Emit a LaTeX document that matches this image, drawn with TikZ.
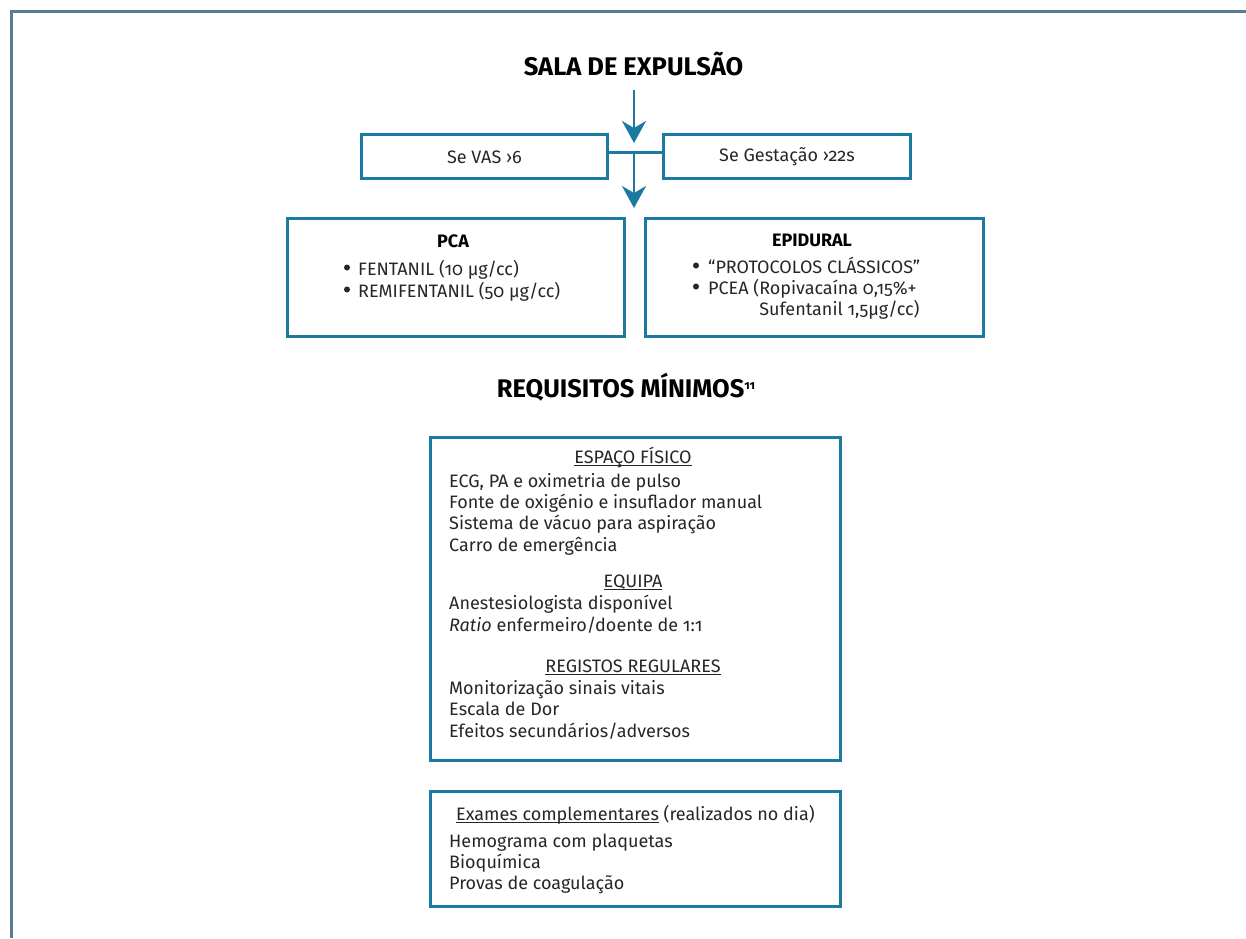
\documentclass[tikz,border=0pt]{standalone}
\usepackage{fontspec}
\setmainfont{Fira Sans}[Numbers=OldStyle]
\usetikzlibrary{arrows.meta}
\definecolor{boxc}{HTML}{1A7AA2}
\definecolor{framec}{HTML}{5B7B92}
\definecolor{txt}{HTML}{262626}
\newcommand{\myul}[1]{\setbox0\hbox{#1}\rlap{\rule[-3pt]{\wd0}{0.9pt}}\box0\relax}
\tikzset{
  boxs/.style={draw=boxc, line width=3pt, inner sep=0pt, anchor=north west},
  arr/.style={draw=boxc, line width=2.5pt, -{Stealth[length=22pt,width=24pt,inset=7pt]}},
  body/.style={inner sep=0pt, text=txt, font=\fontsize{18}{21}\selectfont},
  bl/.style={body, anchor=base west},
  bc/.style={body, anchor=base},
  ttl/.style={inner sep=0pt, anchor=base, font=\fontsize{25.5}{30}\selectfont\bfseries},
  sub/.style={inner sep=0pt, anchor=base, font=\fontsize{18}{21}\selectfont\bfseries},
  bul/.style={fill=txt}
}
\begin{document}
\begin{tikzpicture}[x=1pt,y=-1pt]
\useasboundingbox (0,0) rectangle (1246,938);
% frame
\draw[framec, line width=2.7pt] (11.3,938) -- (11.3,11.3) -- (1246,11.3);
% title
\node[ttl] (t1) at (633.5,75) {SALA DE EXPULSÃO};
% boxes
\node[boxs, minimum width=246pt, minimum height=44pt] (vas) at (360,132.5) {};
\node[boxs, minimum width=247pt, minimum height=44pt] (gest) at (662,132.5) {};
\node[boxs, minimum width=337pt, minimum height=118pt] (pca) at (285.5,216.5) {};
\node[boxs, minimum width=338pt, minimum height=118pt] (epi) at (644,216.5) {};
\node[boxs, minimum width=410pt, minimum height=323pt] (req) at (428.5,435.5) {};
\node[boxs, minimum width=410pt, minimum height=115pt] (exa) at (428.5,789.5) {};
% connectors
\coordinate (a1s) at (634,90);
\coordinate (a1e) at (634,143);
\coordinate (a2s) at (634,151);
\coordinate (a2e) at (634,208);
\draw[arr] (a1s) -- (a1e);
\draw[draw=boxc, line width=2.5pt] ([yshift=3.5pt]vas.east) -- ([yshift=3.5pt]gest.west);
\draw[arr] (a2s) -- (a2e);
% box texts
\node[body, anchor=center] (vast) at ([yshift=-1pt]vas.center) {Se VAS ›6};
\node[body, anchor=center] (gestt) at ([yshift=-1pt]gest.center) {Se Gestação ›22s};
\node[sub] (pcat) at (453,247) {PCA};
\node[bl] (pca1) at (358,275) {FENTANIL (10 µg/cc)};
\node[bl] (pca2) at (358,297) {REMIFENTANIL (50 µg/cc)};
\fill[bul] ([xshift=-11pt,yshift=7.5pt]pca1.base west) circle (3pt);
\fill[bul] ([xshift=-11pt,yshift=7.5pt]pca2.base west) circle (3pt);
\node[sub] (epit) at (812,246) {EPIDURAL};
\node[bl] (epi1) at (708,273) {“PROTOCOLOS CLÁSSICOS”};
\node[bl] (epi2) at (708,294) {PCEA (Ropivacaína 0,15\%+};
\node[bl] (epi3) at (708,315) {\phantom{PCEA (}Sufentanil 1,5µg/cc)};
\fill[bul] ([xshift=-12pt,yshift=7.5pt]epi1.base west) circle (3pt);
\fill[bul] ([xshift=-12pt,yshift=7.5pt]epi2.base west) circle (3pt);
% requisitos
\node[ttl] (t2) at (626,397) {REQUISITOS MÍNIMOS\raisebox{8pt}{\fontsize{12}{12}\selectfont 11}};
\node[bc] (h1) at (633,463) {\myul{ESPAÇO FÍSICO}};
\node[bl] (r1) at (449,487) {ECG, PA e oximetria de pulso};
\node[bl] (r2) at (449,508) {Fonte de oxigénio e insuflador manual};
\node[bl] (r3) at (449,529.5) {Sistema de vácuo para aspiração};
\node[bl] (r4) at (449,551) {Carro de emergência};
\node[bc] (h2) at (633,587) {\myul{EQUIPA}};
\node[bl] (r5) at (449,609) {Anestesiologista disponível};
\node[bl] (r6) at (449,631) {\textit{Ratio} enfermeiro/doente de 1:1};
\node[bc] (h3) at (633,672) {\myul{REGISTOS REGULARES}};
\node[bl] (r7) at (449,694) {Monitorização sinais vitais};
\node[bl] (r8) at (449,715) {Escala de Dor};
\node[bl] (r9) at (449,737) {Efeitos secundários/adversos};
% exames
\node[bl] (e0) at (456,820) {\myul{Exames complementares} (realizados no dia)};
\node[bl] (e1) at (449,847) {Hemograma com plaquetas};
\node[bl] (e2) at (449,868) {Bioquímica};
\node[bl] (e3) at (449,889) {Provas de coagulação};
\end{tikzpicture}
\end{document}
